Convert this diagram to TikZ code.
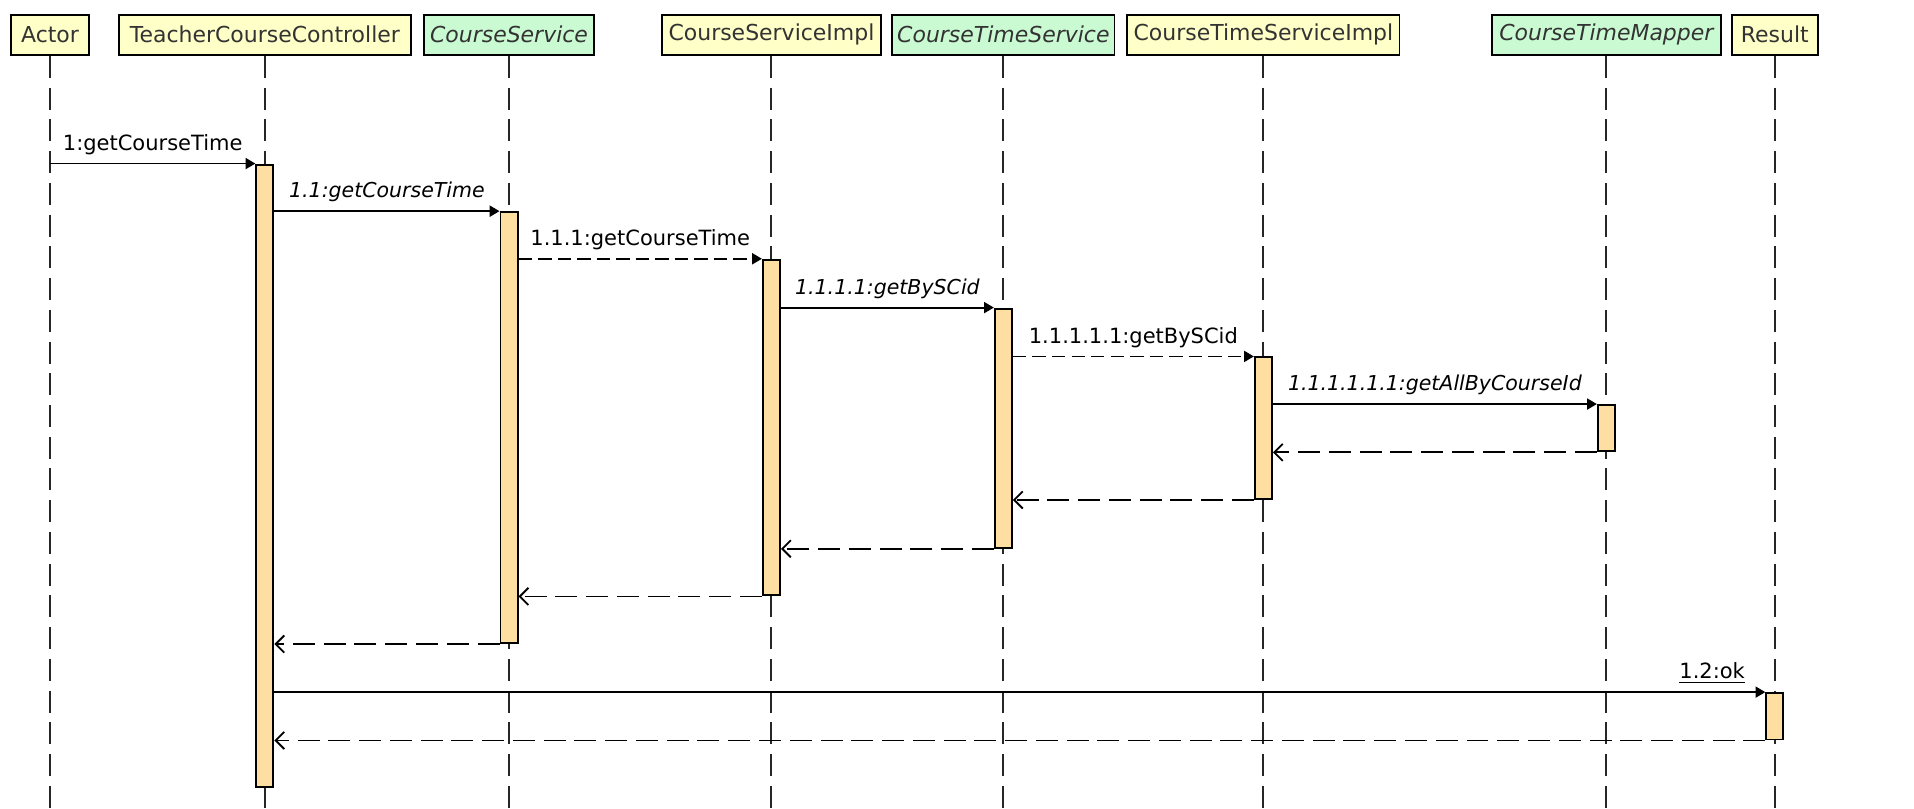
\documentclass[tikz,border=0pt]{standalone}
\usepackage{fontspec}
\setmainfont{DejaVu Sans}
\usetikzlibrary{arrows.meta}
\definecolor{hdryel}{RGB}{255,255,200}
\definecolor{hdrgrn}{RGB}{202,250,210}
\definecolor{actfill}{RGB}{255,222,162}
\begin{document}
\begin{tikzpicture}[x=0.5pt,y=-0.5pt,
  hdr/.style={draw=black, line width=0.8pt, minimum height=16.5pt, inner sep=0pt,
    font=\fontsize{9}{11}\selectfont, text=black!80},
  yel/.style={hdr, fill=hdryel},
  grn/.style={hdr, fill=hdrgrn, font=\fontsize{9}{11}\selectfont\itshape},
  life/.style={line width=0.8pt, dash pattern=on 9pt off 4pt, black!85},
  act/.style={draw=black, fill=actfill, line width=0.8pt, minimum width=7pt, inner sep=0pt, anchor=north},
  call/.style={line width=0.75pt, -{Triangle[length=4pt,width=4.5pt]}},
  dcall/.style={call, dash pattern=on 5.5pt off 2.5pt},
  ret/.style={line width=0.75pt, dash pattern=on 9pt off 3.6pt, -{Straight Barb[length=3.5pt,width=7pt]}},
  lbl/.style={font=\fontsize{8.6}{10}\selectfont, inner sep=0pt, anchor=base, yshift=5.5pt},
  ilbl/.style={lbl, font=\fontsize{8.4}{10}\selectfont\itshape}
]
\useasboundingbox (0,0) rectangle (1568,662);

% headers
\node[yel, minimum width=32pt]   (hA)   at (41,28.5)   {Actor};
\node[yel, minimum width=119.5pt](hTCC) at (217,28.5)  {TeacherCourseController};
\node[grn, minimum width=70pt]   (hCS)  at (417,28.5)  {CourseService};
\node[yel, minimum width=89.5pt] (hCSI) at (632,28.5)  {CourseServiceImpl};
\node[grn, minimum width=91pt]   (hCTS) at (822,28.5)  {CourseTimeService};
\node[yel, minimum width=111.5pt](hCTSI)at (1035,28.5) {CourseTimeServiceImpl};
\node[grn, minimum width=94pt]   (hCTM) at (1316,28.5) {CourseTimeMapper};
\node[yel, minimum width=35pt]   (hR)   at (1454,28.5) {Result};

% lifelines
\foreach \h in {hA,hTCC,hCS,hCSI,hCTS,hCTSI,hCTM,hR}
  \draw[life] (\h.south) -- (\h.south |- 0,662);

% activation bars
\node[act, minimum height=255pt]  (bTCC)  at (217,134) {};
\node[act, minimum height=176.5pt](bCS)   at (417,173) {};
\node[act, minimum height=137.5pt](bCSI)  at (632,212) {};
\node[act, minimum height=98pt]   (bCTS)  at (822,252) {};
\node[act, minimum height=58pt]   (bCTSI) at (1035,292) {};
\node[act, minimum height=19pt]   (bCTM)  at (1316,331) {};
\node[act, minimum height=19pt]   (bR)    at (1454,567) {};

% calls
\draw[call] (hA.south |- 0,134) -- (bTCC.west |- 0,134)
  node[lbl, midway] {1:getCourseTime};
\draw[call] (bTCC.east |- 0,173) -- (bCS.west |- 0,173)
  node[ilbl, midway] {1.1:getCourseTime};
\draw[dcall] (bCS.east |- 0,212) -- (bCSI.west |- 0,212)
  node[lbl, midway] {1.1.1:getCourseTime};
\draw[call] (bCSI.east |- 0,252) -- (bCTS.west |- 0,252)
  node[ilbl, midway] {1.1.1.1:getBySCid};
\draw[dcall] (bCTS.east |- 0,292) -- (bCTSI.west |- 0,292)
  node[lbl, midway] {1.1.1.1.1:getBySCid};
\draw[call] (bCTSI.east |- 0,331) -- (bCTM.west |- 0,331)
  node[ilbl, midway] {1.1.1.1.1.1:getAllByCourseId};

% returns
\draw[ret] (bCTM.south west) -- (bCTSI.east |- bCTM.south);
\draw[ret] (bCTSI.south west) -- (bCTS.east |- bCTSI.south);
\draw[ret] (bCTS.south west) -- (bCSI.east |- bCTS.south);
\draw[ret] (bCSI.south west) -- (bCS.east |- bCSI.south);
\draw[ret] (bCS.south west) -- (bTCC.east |- bCS.south);

% 1.2:ok
\draw[call] (bTCC.east |- 0,567) -- (bR.west |- 0,567)
  node[lbl, pos=1, anchor=base east, xshift=-8pt] {\underline{1.2:ok}};
\draw[ret] (bR.south west) -- (bTCC.east |- bR.south);
\end{tikzpicture}
\end{document}
